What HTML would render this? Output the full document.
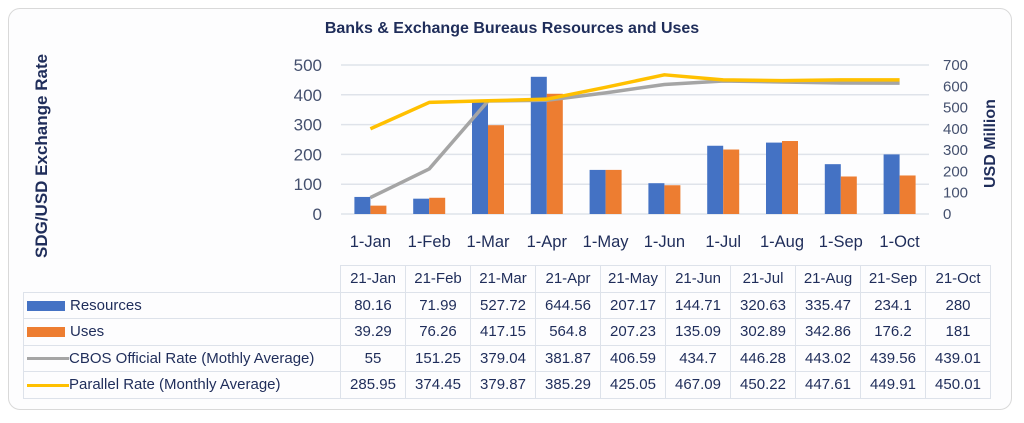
<!DOCTYPE html>
<html><head><meta charset="utf-8"><style>
body{margin:0;width:1024px;height:423px;background:#fff;font-family:"Liberation Sans",sans-serif;overflow:hidden}
.frame{position:absolute;left:8px;top:8px;width:1002px;height:400px;border:1.5px solid #d9d9d9;border-radius:12px;background:#fdfdfe}
svg{position:absolute;left:0;top:0}
table{position:absolute;left:23px;top:265px;border-collapse:collapse;font-size:15px;color:#1f2d5a}
td{border:1.5px solid #dde2ea;height:25.5px;padding:0;text-align:center;width:64px}
td.lab{width:316px;text-align:left;padding-left:0}
tr.hd td.blank{border:none}
.sw{display:inline-block;vertical-align:middle;margin:0 5px 0 3px}
</style></head><body>
<div class="frame"></div>
<svg id="c" width="1024" height="423"></svg>
<table id="t"></table>
<script>
const cats=["1-Jan","1-Feb","1-Mar","1-Apr","1-May","1-Jun","1-Jul","1-Aug","1-Sep","1-Oct"];
const hdr=["21-Jan","21-Feb","21-Mar","21-Apr","21-May","21-Jun","21-Jul","21-Aug","21-Sep","21-Oct"];
const resources=[80.16,71.99,527.72,644.56,207.17,144.71,320.63,335.47,234.1,280];
const uses=[39.29,76.26,417.15,564.8,207.23,135.09,302.89,342.86,176.2,181];
const official=[55,151.25,379.04,381.87,406.59,434.7,446.28,443.02,439.56,439.01];
const parallel=[285.95,374.45,379.87,385.29,425.05,467.09,450.22,447.61,449.91,450.01];
const leftTicks=[0,100,200,300,400,500];
const rightTicks=[0,100,200,300,400,500,600,700];
const NS="http://www.w3.org/2000/svg";
const svg=document.getElementById('c');
const X0=341,X1=929,Y0=214,Y1=65;
const bw=(X1-X0)/cats.length;
const xc=i=>X0+bw*(i+0.5);
const yL=v=>Y0-(v/500)*(Y0-Y1);
const yR=v=>Y0-(v/700)*(Y0-Y1);
function el(t,a,txt){const e=document.createElementNS(NS,t);for(const k in a)e.setAttribute(k,a[k]);if(txt!=null)e.textContent=txt;svg.appendChild(e);return e;}
let e=el('text',{x:512,y:33,'text-anchor':'middle','font-size':16,'font-weight':'bold',fill:'#1f2d5a'},'Banks & Exchange Bureaus Resources and Uses');


leftTicks.forEach(v=>{
 let g=el('line',{x1:X0,x2:X1,y1:yL(v),y2:yL(v),stroke:'#dfe3ea','stroke-width':1.5});
 
 
 let t=el('text',{x:322,y:yL(v)+6,'text-anchor':'end','font-size':17,fill:'#44506e'},String(v));
 
 
});
rightTicks.forEach(v=>{
 let t=el('text',{x:943,y:yR(v)+5,'font-size':15,fill:'#44506e'},String(v));
 
 
});
e=el('text',{x:0,y:0,transform:'translate(47,258) rotate(-90)','font-size':17,'font-weight':'bold',fill:'#1f2d5a'},'SDG/USD Exchange Rate');


e=el('text',{x:0,y:0,transform:'translate(995,188) rotate(-90)','font-size':16,'font-weight':'bold',fill:'#1f2d5a'},'USD Million');


cats.forEach((c,i)=>{
 let b=el('rect',{x:xc(i)-16,y:yR(resources[i]),width:16,height:Y0-yR(resources[i]),fill:'#4472c4'});
 
 
 let o=el('rect',{x:xc(i),y:yR(uses[i]),width:16,height:Y0-yR(uses[i]),fill:'#ed7d31'});
 
 
 let t=el('text',{x:xc(i),y:247,'text-anchor':'middle','font-size':16.5,fill:'#1f2d5a'},c);
 
 
});
e=el('polyline',{points:official.map((v,i)=>xc(i)+','+yL(v)).join(' '),fill:'none',stroke:'#a5a5a5','stroke-width':3.5,'stroke-linejoin':'round'});


e=el('polyline',{points:parallel.map((v,i)=>xc(i)+','+yL(v)).join(' '),fill:'none',stroke:'#ffc000','stroke-width':3.5,'stroke-linejoin':'round'});


const tbl=document.getElementById('t');
let h='<tr class="hd"><td class="lab blank"></td>'+hdr.map(x=>'<td>'+x+'</td>').join('')+'</tr>';
const rows=[["Resources",resources,'<span class="sw" style="width:38px;height:10px;background:#4472c4"></span>',"row-resources"],
["Uses",uses,'<span class="sw" style="width:38px;height:10px;background:#ed7d31"></span>',"row-uses"],
["CBOS Official Rate (Mothly Average)",official,'<span class="sw" style="width:42px;height:3px;background:#a5a5a5;margin-right:0"></span>',"row-official"],
["Parallel Rate (Monthly Average)",parallel,'<span class="sw" style="width:42px;height:3px;background:#ffc000;margin-right:0"></span>',"row-parallel"]];
rows.forEach(r=>{h+='<tr><td class="lab">'+r[2]+r[0]+'</td>'+r[1].map(v=>'<td>'+v+'</td>').join('')+'</tr>';});
tbl.innerHTML=h;
</script>
</body></html>
